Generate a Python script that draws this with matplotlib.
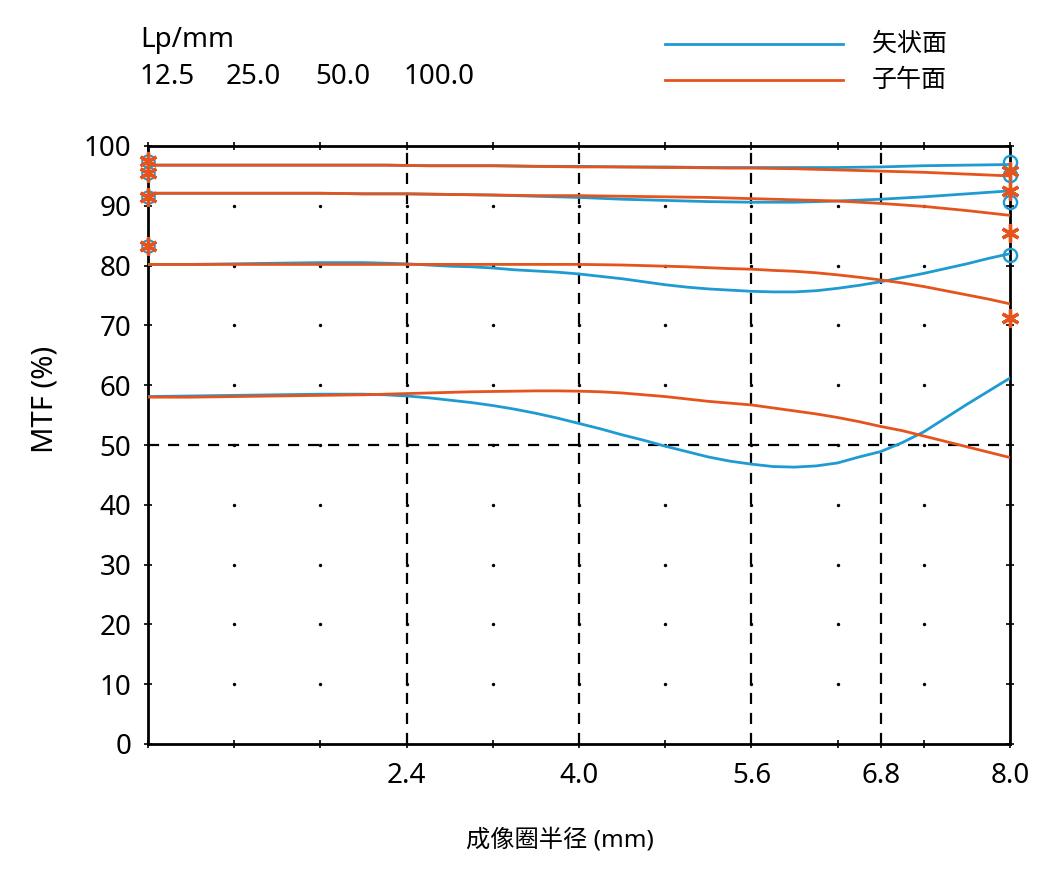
import numpy as np
import matplotlib
matplotlib.use("Agg")
import matplotlib.pyplot as plt
from matplotlib.lines import Line2D

plt.rcParams['font.family'] = ['Noto Sans', 'Noto Sans CJK SC', 'DejaVu Sans']

# ---------------- data ----------------
radius = [0.0, 0.2, 0.4, 0.6, 0.8, 1.0, 1.2, 1.4, 1.6, 1.8,
          2.0, 2.2, 2.4, 2.6, 2.8, 3.0, 3.2, 3.4, 3.6, 3.8,
          4.0, 4.2, 4.4, 4.6, 4.8, 5.0, 5.2, 5.4, 5.6, 5.8,
          6.0, 6.2, 6.4, 6.6, 6.8, 7.0, 7.2, 7.4, 7.6, 7.8, 8.0]

sag_12_5 = [96.8, 96.8, 96.8, 96.8, 96.8, 96.8, 96.8, 96.8, 96.8, 96.8,
            96.8, 96.8, 96.75, 96.7, 96.7, 96.7, 96.7, 96.65, 96.6, 96.6,
            96.6, 96.55, 96.5, 96.5, 96.5, 96.45, 96.4, 96.4, 96.4, 96.4,
            96.4, 96.4, 96.4, 96.45, 96.5, 96.6, 96.7, 96.75, 96.8, 96.85, 96.9]
mer_12_5 = [96.8, 96.8, 96.8, 96.8, 96.8, 96.8, 96.8, 96.8, 96.8, 96.8,
            96.8, 96.8, 96.75, 96.7, 96.7, 96.7, 96.7, 96.65, 96.6, 96.55,
            96.5, 96.5, 96.5, 96.45, 96.4, 96.4, 96.35, 96.3, 96.3, 96.25,
            96.2, 96.1, 96.0, 95.9, 95.8, 95.7, 95.6, 95.45, 95.3, 95.15, 95.0]
sag_25 = [92.1, 92.1, 92.1, 92.1, 92.1, 92.1, 92.1, 92.1, 92.1, 92.05,
          92.0, 92.0, 92.0, 91.95, 91.9, 91.85, 91.8, 91.7, 91.6, 91.5,
          91.4, 91.25, 91.1, 91.0, 90.9, 90.8, 90.7, 90.65, 90.6, 90.6,
          90.6, 90.7, 90.8, 90.95, 91.1, 91.3, 91.5, 91.75, 92.0, 92.25, 92.5]
mer_25 = [92.1, 92.1, 92.1, 92.1, 92.1, 92.1, 92.1, 92.1, 92.1, 92.05,
          92.0, 92.0, 92.0, 91.95, 91.9, 91.85, 91.8, 91.75, 91.7, 91.7,
          91.7, 91.65, 91.6, 91.55, 91.5, 91.45, 91.4, 91.3, 91.2, 91.1,
          91.0, 90.9, 90.8, 90.6, 90.4, 90.15, 89.9, 89.55, 89.2, 88.8, 88.4]
sag_50 = [80.2, 80.2, 80.2, 80.25, 80.3, 80.35, 80.4, 80.45, 80.5, 80.5,
          80.5, 80.4, 80.3, 80.1, 79.9, 79.8, 79.6, 79.3, 79.1, 78.9,
          78.6, 78.2, 77.8, 77.3, 76.8, 76.4, 76.1, 75.9, 75.7, 75.6,
          75.6, 75.8, 76.2, 76.7, 77.3, 78.0, 78.7, 79.5, 80.3, 81.2, 82.0]
mer_50 = [80.2, 80.2, 80.2, 80.2, 80.2, 80.2, 80.2, 80.2, 80.2, 80.2,
          80.2, 80.2, 80.2, 80.2, 80.2, 80.2, 80.2, 80.2, 80.2, 80.2,
          80.2, 80.15, 80.1, 80.0, 79.9, 79.8, 79.65, 79.5, 79.4, 79.2,
          79.05, 78.8, 78.45, 78.05, 77.6, 77.1, 76.5, 75.8, 75.1, 74.4, 73.6]
sag_100 = [58.1, 58.15, 58.2, 58.25, 58.3, 58.35, 58.4, 58.45, 58.5, 58.5,
           58.5, 58.4, 58.2, 57.9, 57.5, 57.1, 56.6, 56.0, 55.3, 54.5,
           53.6, 52.7, 51.7, 50.8, 49.8, 48.9, 48.0, 47.3, 46.8, 46.4,
           46.3, 46.5, 47.0, 48.0, 48.9, 50.4, 52.2, 54.5, 56.8, 59.0, 61.2]
mer_100 = [58.0, 58.0, 58.0, 58.05, 58.1, 58.15, 58.2, 58.25, 58.3, 58.35,
           58.4, 58.5, 58.6, 58.7, 58.8, 58.9, 58.95, 59.0, 59.05, 59.05,
           59.0, 58.9, 58.7, 58.4, 58.1, 57.7, 57.3, 57.0, 56.7, 56.2,
           55.7, 55.2, 54.6, 53.9, 53.1, 52.4, 51.5, 50.6, 49.7, 48.8, 47.9]

# point markers at the field edges
left_x = [0.0, 0.0, 0.0, 0.0]
left_star = [97.5, 95.5, 91.4, 83.2]
right_x = [8.0, 8.0, 8.0, 8.0]
right_circle = [97.4, 95.1, 90.7, 81.8]
right_star = [95.9, 92.5, 85.4, 71.2]

grid_x = [2.4, 4.0, 5.6, 6.8]
grid_y = [50]
xtick_labels = {2.4: "2.4", 4.0: "4.0", 5.6: "5.6", 6.8: "6.8", 8.0: "8.0"}
yticks = [0, 10, 20, 30, 40, 50, 60, 70, 80, 90, 100]
freq_labels = ["12.5", "25.0", "50.0", "100.0"]
legend_labels = ["矢状面", "子午面"]

BLUE = "#1e9bd2"
ORANGE = "#e5541c"

# ---------------- figure ----------------
fig = plt.figure(figsize=(10.6, 8.83), dpi=100)
ax = fig.add_axes([148/1060, 1-744/883, (1010-148)/1060, (744-146)/883])
ax.set_xlim(0, 8)
ax.set_ylim(0, 100)

# dot grid
dot_x = np.arange(1, 10) * 0.8
dot_y = np.arange(1, 10) * 10
DX, DY = np.meshgrid(dot_x, dot_y)
ax.scatter(DX.ravel(), DY.ravel(), s=6, color="black", zorder=1, linewidths=0)

for gx in grid_x:
    ax.axvline(gx, color="black", lw=1.6, ls=(0, (5, 4)), zorder=1)
for gy in grid_y:
    ax.axhline(gy, color="black", lw=1.6, ls=(0, (5, 4)), zorder=1)

for s, m in [(sag_12_5, mer_12_5), (sag_25, mer_25), (sag_50, mer_50), (sag_100, mer_100)]:
    ax.plot(radius, s, color=BLUE, lw=2, zorder=3)
    ax.plot(radius, m, color=ORANGE, lw=2, zorder=3)

ax.plot(left_x, left_star, ls="none", marker="o", ms=9, mfc="none", mec=BLUE, mew=1.5, zorder=4, clip_on=False)
ax.plot(left_x, left_star, ls="none", marker=(6, 2, 0), ms=13, mec=ORANGE, mew=2.4, zorder=5, clip_on=False)
ax.plot(right_x, right_circle, ls="none", marker="o", ms=9.5, mfc="none", mec=BLUE, mew=1.7, zorder=4, clip_on=False)
ax.plot(right_x, right_star, ls="none", marker=(6, 2, 0), ms=13, mec=ORANGE, mew=2.4, zorder=5, clip_on=False)

# ticks
xt = sorted(set(list(np.round(np.arange(0, 8.01, 0.8), 2)) + [6.8]))
ax.set_xticks(xt)
ax.set_xticklabels([xtick_labels.get(round(v, 1), "") for v in xt])
ax.set_yticks(yticks)
ax.set_yticklabels([str(v) for v in yticks])
ax.tick_params(direction="inout", length=6, width=1.2, labelsize=20,
               top=True, right=True)
ax.tick_params(axis="y", pad=9)
ax.tick_params(axis="x", pad=10)
for sp in ax.spines.values():
    sp.set_linewidth(2)
    sp.set_color("black")

fig.text(560/1060, 1-840/883, "成像圈半径 (mm)", fontsize=17.5, ha="center", va="center")
fig.text(45/1060, 1-399/883, "MTF (%)", fontsize=21, ha="center", va="center", rotation=90)

# top-left frequency legend
fig.text(140/1060, 1-40/883, "Lp/mm", fontsize=20, va="center", ha="left")
freq_x = [140, 226, 315, 404]
for fx, lab in zip(freq_x, freq_labels):
    fig.text(fx/1060, 1-77/883, lab, fontsize=20, va="center", ha="left")

# top-right legend
for yy, col, lab in [(44, BLUE, legend_labels[0]), (80, ORANGE, legend_labels[1])]:
    fig.add_artist(Line2D([665/1060, 843/1060], [1-yy/883, 1-yy/883], color=col, lw=2))
    fig.text(872/1060, 1-yy/883, lab, fontsize=18, va="center", ha="left")

fig.savefig("out.png", dpi=100)
